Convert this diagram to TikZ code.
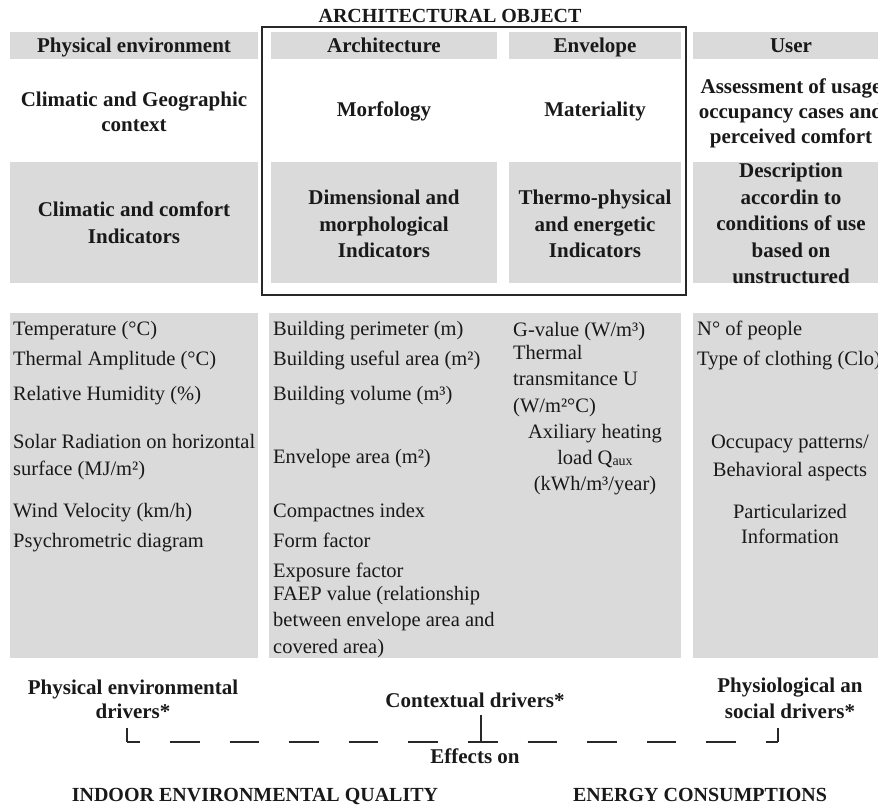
\documentclass[tikz,border=0pt]{standalone}
\usepackage{fontspec}
\setmainfont{Liberation Serif}
\definecolor{boxgray}{RGB}{218,218,218}
\definecolor{txt}{RGB}{25,25,25}
\definecolor{lin}{RGB}{40,40,40}
\tikzset{
  graybox/.style={fill=boxgray, draw=none, inner sep=0pt, outer sep=0pt},
  hd/.style={font=\bfseries\fontsize{21}{26}\selectfont, text=txt, inner sep=0pt, align=center},
  captxt/.style={font=\bfseries\fontsize{20}{24}\selectfont, text=txt, inner sep=0pt},
  itm/.style={font=\fontsize{20.5}{26.5}\selectfont, text=txt, inner sep=0pt, align=left, anchor=base west},
  itmc/.style={font=\fontsize{20.5}{26.5}\selectfont, text=txt, inner sep=0pt, align=center, anchor=north},
  brk/.style={draw=lin, line width=2pt},
}
\newcommand{\bs}[1]{\fontsize{21}{#1}\selectfont}
\newcommand{\rs}[1]{\fontsize{20.5}{#1}\selectfont}
\begin{document}
\begin{tikzpicture}[x=1pt,y=-1pt]
\useasboundingbox (0,0) rectangle (878,805);
% ---------- gray boxes ----------
% row 1 headers
\node[graybox, minimum width=248, minimum height=27] (bPhysHd) at (134,45.5) {};
\node[graybox, minimum width=226, minimum height=27] (bArchHd) at (384,45.5) {};
\node[graybox, minimum width=172, minimum height=27] (bEnvHd)  at (595,45.5) {};
\node[graybox, minimum width=196, minimum height=27] (bUserHd) at (791,45.5) {};
% row 3 indicators
\node[graybox, minimum width=248, minimum height=121] (bPhysInd) at (134,222.5) {};
\node[graybox, minimum width=226, minimum height=121] (bArchInd) at (384,222.5) {};
\node[graybox, minimum width=172, minimum height=121] (bEnvInd)  at (595,222.5) {};
\node[graybox, minimum width=196, minimum height=121] (bUserInd) at (791,222.5) {};
% row 4 lists
\node[graybox, minimum width=248, minimum height=345] (bPhysList) at (134,485.5) {};
\node[graybox, minimum width=412, minimum height=345] (bArchList) at (475,485.5) {};
\node[graybox, minimum width=196, minimum height=345] (bUserList) at (791,485.5) {};
% ---------- architectural object frame ----------
\node[draw=lin, line width=2pt, minimum width=424, minimum height=268, inner sep=0pt] (archobj) at (474,161) {};
\node[captxt, anchor=base] (tAO) at (450,23) {ARCHITECTURAL OBJECT};
% ---------- row 1 ----------
\node[hd, anchor=base] (tPhysHd) at (134,52.5) {Physical environment};
\node[hd, anchor=base] (tArchHd) at (384,52.5) {Architecture};
\node[hd, anchor=base] (tEnvHd)  at (595,52.5) {Envelope};
\node[hd, anchor=base] (tUserHd) at (791,52.5) {User};
% ---------- row 2 ----------
\node[hd, anchor=north, font=\bfseries\bs{25}] (tClim) at (134,92) {Climatic and Geographic\\context};
\node[hd, anchor=base] (tMorf) at (384,117) {Morfology};
\node[hd, anchor=base] (tMat)  at (595,117) {Materiality};
\node[hd, anchor=north, font=\bfseries\bs{25}] (tAssess) at (791,79) {Assessment of usage\\occupancy cases and\\perceived comfort};
% ---------- row 3 ----------
\node[hd, anchor=north, font=\bfseries\bs{27}] (tClimInd) at (134,202) {Climatic and comfort\\Indicators};
\node[hd, anchor=north, font=\bfseries\bs{26.5}] (tDim) at (384,190) {Dimensional and\\morphological\\Indicators};
\node[hd, anchor=north, font=\bfseries\bs{26.5}] (tThermo) at (595,190) {Thermo-physical\\and energetic\\Indicators};
\node[hd, anchor=north, font=\bfseries\bs{26.5}] (tDesc) at (791,163) {Description\\accordin to\\conditions of use\\based on\\unstructured};
% ---------- row 4: physical ----------
\node[itm] (p1) at (13,335) {Temperature (°C)};
\node[itm] (p2) at (13,365) {Thermal Amplitude (°C)};
\node[itm] (p3) at (13,400) {Relative Humidity (\%)};
\node[itm, anchor=north west, font=\rs{27}] (p4) at (13,434) {Solar Radiation on horizontal\\surface (MJ/m²)};
\node[itm] (p5) at (13,517) {Wind Velocity (km/h)};
\node[itm] (p6) at (13,547) {Psychrometric diagram};
% ---------- row 4: architecture ----------
\node[itm] (a1) at (273,335) {Building perimeter (m)};
\node[itm] (a2) at (273,365) {Building useful area (m²)};
\node[itm] (a3) at (273,400) {Building volume (m³)};
\node[itm] (a4) at (273,463) {Envelope area (m²)};
\node[itm] (a5) at (273,517) {Compactnes index};
\node[itm] (a6) at (273,547) {Form factor};
\node[itm] (a7) at (273,577) {Exposure factor};
\node[itm, anchor=north west, font=\rs{26.5}] (a8) at (273,586) {FAEP value (relationship\\between envelope area and\\covered area)};
% ---------- row 4: envelope ----------
\node[itm] (e1) at (513,336) {G-value (W/m³)};
\node[itm, anchor=north west, font=\rs{26.5}] (e2) at (513,345) {Thermal\\transmitance U\\(W/m²°C)};
\node[itmc, font=\rs{26}] (e3) at (595,424) {Axiliary heating\\load Q\raisebox{-1pt}{\fontsize{14}{14}\selectfont aux}\\(kWh/m³/year)};
% ---------- row 4: user ----------
\node[itm] (u1) at (697,335) {N° of people};
\node[itm] (u2) at (697,365) {Type of clothing (Clo)};
\node[itmc, font=\rs{28}] (u3) at (790,435) {Occupacy patterns/\\Behavioral aspects};
\node[itmc, font=\rs{25}] (u4) at (790,504) {Particularized\\Information};
% ---------- bottom drivers ----------
\node[hd, anchor=north, font=\bfseries\bs{24}] (tPhysDr) at (133,680) {Physical environmental\\drivers*};
\node[hd, anchor=base] (tCtx) at (475,707) {Contextual drivers*};
\node[hd, anchor=north, font=\bfseries\bs{26}] (tSocDr) at (790,678) {Physiological an\\social drivers*};
\node[hd, anchor=base] (tEff) at (475,763) {Effects on};
\node[captxt, anchor=base] (tIEQ) at (255,801) {INDOOR ENVIRONMENTAL QUALITY};
\node[captxt, anchor=base] (tEC)  at (700,801) {ENERGY CONSUMPTIONS};
% ---------- bracket ----------
\coordinate (blt) at (127,728);
\coordinate (bl)  at (127,742);
\coordinate (ct)  at (481,715);
\coordinate (cb)  at (481,742);
\coordinate (brt) at (778,728);
\coordinate (br)  at (778,742);
\draw[brk] (blt) -- (bl);
\draw[brk] (ct) -- (cb);
\draw[brk] (brt) -- (br);
\draw[brk, dash pattern=on 29.6pt off 30pt, dash phase=16.6pt] (bl) -- (br);
\end{tikzpicture}
\end{document}
